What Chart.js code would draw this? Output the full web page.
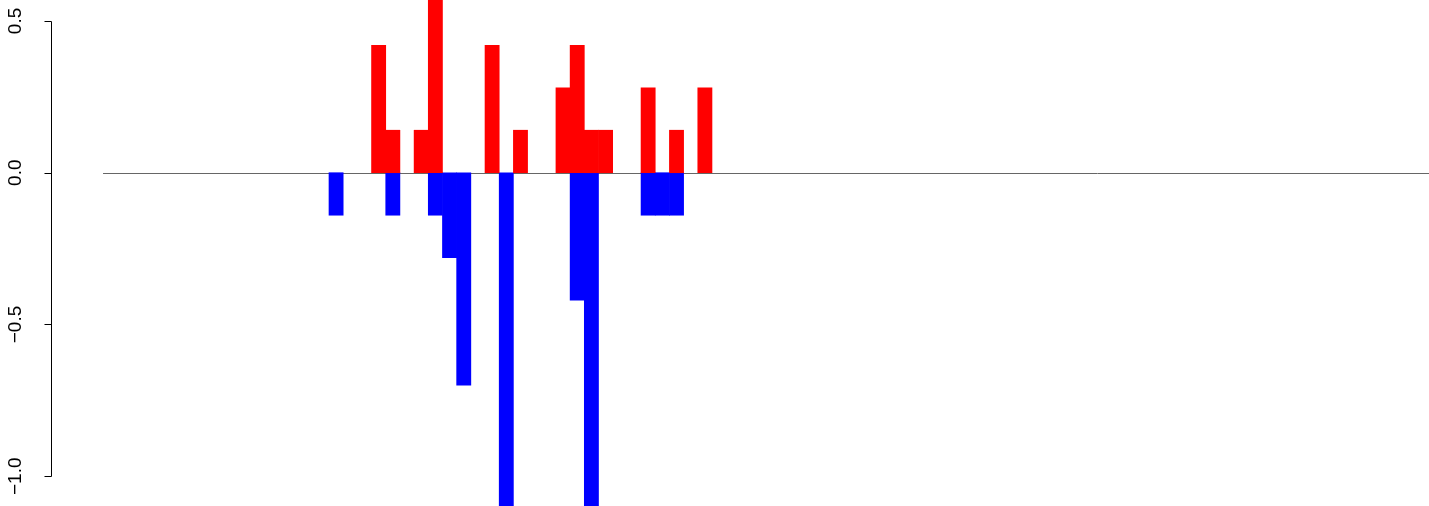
<!DOCTYPE html>
<html>
<head>
<meta charset="utf-8">
<script src="https://cdn.jsdelivr.net/npm/chart.js@4/dist/chart.umd.min.js"></script>
<style>
  html, body { margin: 0; padding: 0; background: #fff; }
  #chart { display: block; }
</style>
</head>
<body>
<canvas id="chart" width="1429" height="506"></canvas>
<script>
// bin positions (one bar slot each)
const bins = [16, 17, 18, 19, 20, 21, 22, 23, 24, 25, 26, 27, 28, 29,
  30, 31, 32, 33, 34, 35, 36, 37, 38, 39, 40, 41, 42];

// positive series (red)
const upValues = [null, null, null, 0.42, 0.14, null, 0.14, 0.70, null, null,
  null, 0.42, null, 0.14, null, null, 0.28, 0.42, 0.14, 0.14,
  null, null, 0.28, null, 0.14, null, 0.28];

// negative series (blue)
const downValues = [-0.14, null, null, null, -0.14, null, null, -0.14, -0.28, -0.70,
  null, null, -1.12, null, null, null, null, -0.42, -1.12, null,
  null, null, -0.14, -0.14, -0.14, null, null];

// y axis tick values
const yTicks = [0.5, 0.0, -0.5, -1.0];

// where the zero line starts (x data units)
const zeroLineFrom = -0.43;

// R-like left axis and zero line
const rAxis = {
  id: 'rAxis',
  beforeDatasetsDraw(chart) {
    const ctx = chart.ctx;
    const xs = chart.scales.x;
    const ys = chart.scales.y;
    const y0 = Math.round(ys.getPixelForValue(0)) + 0.5;
    ctx.save();
    ctx.strokeStyle = '#666666';
    ctx.lineWidth = 1;
    ctx.beginPath();
    ctx.moveTo(xs.getPixelForValue(zeroLineFrom), y0);
    ctx.lineTo(chart.chartArea.right, y0);
    ctx.stroke();
    ctx.restore();
  },
  afterDraw(chart) {
    const ctx = chart.ctx;
    const ys = chart.scales.y;
    const axisX = 51.5;
    ctx.save();
    ctx.strokeStyle = '#000';
    ctx.lineWidth = 1;
    ctx.beginPath();
    ctx.moveTo(axisX, Math.round(ys.getPixelForValue(yTicks[0])) + 0.5);
    ctx.lineTo(axisX, Math.round(ys.getPixelForValue(yTicks[yTicks.length - 1])) + 0.5);
    yTicks.forEach((t) => {
      const py = Math.round(ys.getPixelForValue(t)) + 0.5;
      ctx.moveTo(axisX, py);
      ctx.lineTo(axisX - 7, py);
    });
    ctx.stroke();

    ctx.fillStyle = '#000';
    ctx.font = '19px "Liberation Sans", Arial, sans-serif';
    ctx.textAlign = 'center';
    ctx.textBaseline = 'alphabetic';
    yTicks.forEach((t) => {
      const py = ys.getPixelForValue(t);
      const label = t.toFixed(1).replace('-', '\u2212');
      ctx.save();
      ctx.translate(21, py);
      ctx.rotate(-Math.PI / 2);
      ctx.fillText(label, 0, 0);
      ctx.restore();
    });
    ctx.restore();
  }
};

new Chart(document.getElementById('chart'), {
  type: 'bar',
  data: {
    labels: bins,
    datasets: [
      {
        label: 'up',
        data: upValues,
        backgroundColor: '#ff0000',
        borderWidth: 0,
        barPercentage: 1,
        categoryPercentage: 1,
      },
      {
        label: 'down',
        data: downValues,
        backgroundColor: '#0000ff',
        borderWidth: 0,
        barPercentage: 1,
        categoryPercentage: 1,
      },
    ],
  },
  options: {
    responsive: false,
    animation: false,
    devicePixelRatio: 1,
    layout: { padding: 0 },
    scales: {
      x: {
        type: 'linear',
        display: false,
        stacked: true,
        offset: false,
        min: -7.694,
        max: 93.05,
      },
      y: {
        display: false,
        stacked: true,
        min: -1.098,
        max: 0.569,
      },
    },
    plugins: {
      legend: { display: false },
      tooltip: { enabled: false },
    },
  },
  plugins: [rAxis],
});
</script>
</body>
</html>
